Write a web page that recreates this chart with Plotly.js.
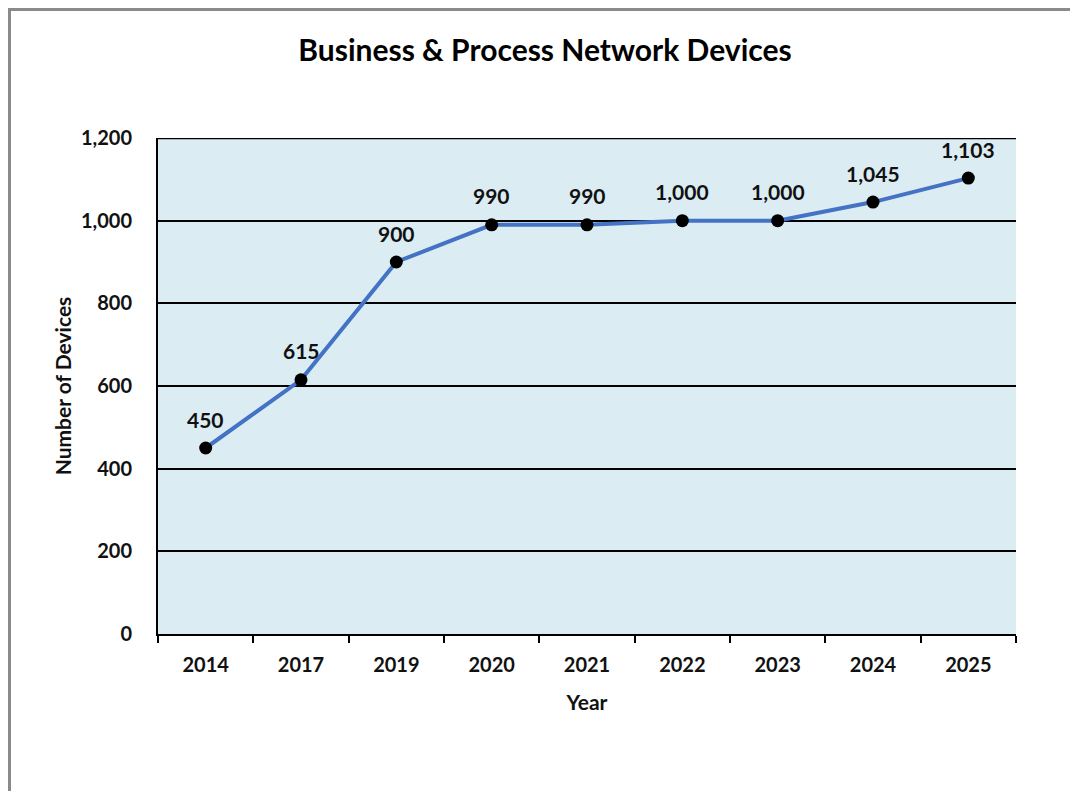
<!DOCTYPE html>
<html>
<head>
<meta charset="utf-8">
<script src="https://cdn.plot.ly/plotly-3.0.1.min.js"></script>
<style>
html,body{margin:0;padding:0;background:#fff;}
#frame{position:absolute;left:8px;top:8px;width:1080px;height:800px;border-left:3px solid #8a8a8a;border-top:3px solid #8a8a8a;box-sizing:border-box;}
#chart{position:absolute;left:0;top:0;width:1070px;height:791px;}
</style>
</head>
<body>
<div id="frame"></div>
<div id="chart"></div>
<script>
const years = ['2014','2017','2019','2020','2021','2022','2023','2024','2025'];
const devices = [450, 615, 900, 990, 990, 1000, 1000, 1045, 1103];
const yTicks = [0, 200, 400, 600, 800, 1000, 1200];

const FONT = 'Lato, "Open Sans", sans-serif';

const trace = {
  x: years,
  y: devices,
  type: 'scatter',
  mode: 'lines+markers',
  line: {color: '#4472C4', width: 4},
  marker: {color: '#000', size: 13},
  cliponaxis: false,
  hoverinfo: 'skip'
};

const labels = years.map((yr, i) => ({
  x: i, y: devices[i], xref: 'x', yref: 'y',
  text: '<b>' + devices[i].toLocaleString('en-US') + '</b>',
  showarrow: false, yshift: 29,
  font: {family: FONT, size: 21, color: '#111'}
}));

const layout = {
  width: 1070, height: 791,
  paper_bgcolor: 'rgba(0,0,0,0)',
  plot_bgcolor: '#DBEDF3',
  margin: {l: 158, r: 54, t: 138, b: 157},
  showlegend: false,
  title: {
    text: '<b>Business &amp; Process Network Devices</b>',
    font: {family: FONT, size: 30, color: '#000'},
    x: 545/1070, xanchor: 'center', xref: 'container',
    y: 1 - 50/791, yanchor: 'middle', yref: 'container'
  },
  xaxis: {
    type: 'category',
    range: [-0.5, 8.5],
    tickson: 'boundaries',
    ticks: 'outside', ticklen: 7, tickwidth: 2, tickcolor: '#000',
    showline: true, linecolor: '#000', linewidth: 2,
    showgrid: false, zeroline: false,
    tickfont: {family: FONT, size: 20, color: '#111', weight: 'bold'},
    ticklabelstandoff: 12,
    title: {text: '<b>Year</b>', font: {family: FONT, size: 21, color: '#111'}, standoff: 20}
  },
  yaxis: {
    range: [0, 1200],
    tickvals: yTicks,
    tickformat: ',',
    ticks: '',
    showline: true, linecolor: '#000', linewidth: 2,
    showgrid: true, gridcolor: '#000', gridwidth: 2,
    zeroline: false,
    tickfont: {family: FONT, size: 20, color: '#111', weight: 'bold'},
    ticklabelstandoff: 20,
    title: {text: '<b>Number of Devices</b>', font: {family: FONT, size: 21, color: '#111'}, standoff: 4}
  },
  annotations: labels,
  shapes: [{
    type: 'line', xref: 'paper', yref: 'y', x0: 0, x1: 1, y0: 1200, y1: 1200,
    line: {color: '#000', width: 2.5}
  }]
};

Plotly.newPlot('chart', [trace], layout, {displayModeBar: false, staticPlot: true});
</script>
</body>
</html>
